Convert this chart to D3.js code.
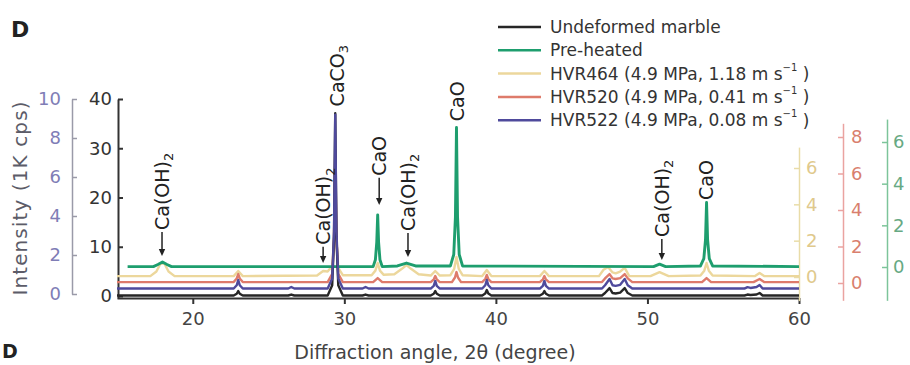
<!DOCTYPE html>
<html><head><meta charset="utf-8">
<script src="https://cdn.jsdelivr.net/npm/d3@7"></script>
<style>
body{margin:0;background:#fff;}
svg{display:block;font-family:"DejaVu Sans",sans-serif;background:#fff;}
</style></head><body><svg id="c" width="910" height="365"></svg>
<script>
// ---------------- DATA ----------------
const seriesNames = ["Undeformed marble", "Pre-heated", "HVR464 (4.9 MPa, 1.18 m s", "HVR520 (4.9 MPa, 0.41 m s", "HVR522 (4.9 MPa, 0.08 m s"];
const seriesColors = ["#262626", "#1e9e6e", "#ecd79c", "#de7b6b", "#4f4a9c"];

// [2theta (deg), intensity in that series' own axis units]
const undeformed = [[15.0,0.1],[22.7,0.1],[22.9,0.45],[23.0,1.0],[23.1,0.45],[23.3,0.1],[26.3,0.1],[26.5,0.3],[26.7,0.1],[28.9,0.1],[29.2,2.2],[29.32,12],[29.4,37.1],[29.48,12],[29.6,2.2],[29.9,0.1],[31.2,0.1],[31.4,0.3],[31.6,0.1],[35.7,0.1],[35.9,0.45],[36.0,1.0],[36.1,0.45],[36.3,0.1],[39.1,0.1],[39.3,0.5],[39.4,1.2],[39.5,0.5],[39.7,0.1],[42.9,0.1],[43.1,0.45],[43.2,1.0],[43.3,0.45],[43.5,0.1],[47.0,0.1],[47.2,0.6],[47.5,1.6],[47.7,0.6],[47.9,0.5],[48.2,0.7],[48.5,1.6],[48.7,0.6],[49.0,0.1],[56.4,0.1],[56.6,0.3],[56.8,0.2],[57.2,0.3],[57.4,0.6],[57.6,0.1],[60.0,0.1]];
const preheated = [[15.7,0.02],[17.4,0.02],[17.7,0.12],[18.0,0.24],[18.3,0.12],[18.6,0.02],[31.9,0.02],[32.05,0.35],[32.14,1.2],[32.2,2.5],[32.26,1.2],[32.35,0.35],[32.5,0.02],[33.5,0.05],[34.1,0.19],[34.7,0.05],[37.0,0.05],[37.22,0.6],[37.33,2.4],[37.4,6.7],[37.47,2.4],[37.58,0.6],[37.8,0.05],[50.4,0.02],[50.8,0.14],[51.2,0.02],[53.5,0.05],[53.72,0.4],[53.83,1.3],[53.9,3.1],[53.97,1.3],[54.08,0.4],[54.3,0.05],[60.0,0.02]];
const hvr464 = [[15.0,0.05],[17.2,0.05],[17.6,0.3],[17.85,0.7],[18.0,0.77],[18.15,0.7],[18.4,0.3],[18.8,0.05],[22.7,0.05],[23.0,0.33],[23.3,0.05],[28.2,0.08],[28.6,0.33],[28.9,0.3],[29.2,0.6],[29.32,2.1],[29.4,6.4],[29.48,2.1],[29.6,0.5],[29.9,0.1],[31.8,0.1],[32.05,0.35],[32.2,0.77],[32.35,0.35],[32.6,0.12],[33.3,0.15],[33.8,0.45],[34.1,0.66],[34.4,0.45],[34.9,0.15],[35.7,0.08],[36.0,0.33],[36.3,0.08],[37.0,0.1],[37.25,0.45],[37.4,1.1],[37.55,0.45],[37.8,0.1],[39.1,0.05],[39.4,0.38],[39.7,0.05],[42.9,0.05],[43.2,0.33],[43.5,0.05],[46.8,0.05],[47.1,0.4],[47.4,0.55],[47.7,0.25],[47.9,0.2],[48.2,0.3],[48.5,0.5],[48.8,0.05],[50.2,0.05],[50.8,0.27],[51.4,0.05],[53.5,0.08],[53.75,0.35],[53.9,0.77],[54.05,0.35],[54.3,0.08],[57.1,0.05],[57.4,0.22],[57.7,0.05],[60.0,0.05]];
const hvr520 = [[15.0,0.05],[22.7,0.05],[22.9,0.25],[23.0,0.49],[23.1,0.25],[23.3,0.05],[28.9,0.05],[29.2,0.5],[29.32,2.4],[29.4,7.3],[29.48,2.4],[29.6,0.5],[29.9,0.05],[31.9,0.05],[32.2,0.27],[32.5,0.05],[35.7,0.05],[35.9,0.2],[36.0,0.38],[36.1,0.2],[36.3,0.05],[37.1,0.05],[37.3,0.3],[37.4,0.6],[37.5,0.3],[37.7,0.05],[39.1,0.05],[39.3,0.22],[39.4,0.44],[39.5,0.22],[39.7,0.05],[42.9,0.05],[43.1,0.2],[43.2,0.38],[43.3,0.2],[43.5,0.05],[47.0,0.05],[47.2,0.25],[47.5,0.49],[47.7,0.25],[47.9,0.22],[48.2,0.27],[48.5,0.49],[48.7,0.25],[49.0,0.05],[53.6,0.05],[53.9,0.27],[54.2,0.05],[57.0,0.05],[57.4,0.22],[57.7,0.05],[60.0,0.05]];
const hvr522 = [[15.0,0.28],[22.7,0.28],[22.9,0.45],[23.0,0.72],[23.1,0.45],[23.3,0.28],[26.3,0.28],[26.5,0.36],[26.7,0.28],[28.9,0.28],[29.2,0.8],[29.32,3.2],[29.4,9.2],[29.48,3.2],[29.6,0.8],[29.9,0.28],[31.2,0.28],[31.4,0.36],[31.6,0.28],[35.7,0.28],[35.9,0.42],[36.0,0.67],[36.1,0.42],[36.3,0.28],[39.1,0.28],[39.3,0.45],[39.4,0.72],[39.5,0.45],[39.7,0.28],[42.9,0.28],[43.1,0.42],[43.2,0.67],[43.3,0.42],[43.5,0.28],[47.0,0.28],[47.2,0.45],[47.5,0.77],[47.7,0.45],[47.9,0.42],[48.2,0.47],[48.5,0.77],[48.7,0.45],[49.0,0.28],[56.4,0.28],[56.6,0.35],[56.8,0.31],[57.2,0.36],[57.4,0.46],[57.6,0.28],[60.0,0.28]];

const xTicks = [20, 30, 40, 50, 60];
const blackTicks = [0, 10, 20, 30, 40];
const purpleTicks = [0, 2, 4, 6, 8, 10];
const yellowTicks = [0, 2, 4, 6];
const redTicks = [0, 2, 4, 6, 8];
const greenTicks = [0, 2, 4, 6];

// peak annotations (angle, label, subscript, text start & arrow tip in left-axis units)
const peakAngles = [17.97, 28.6, 29.5, 32.3, 34.2, 37.42, 50.95, 53.88];
const peakLabels = ["Ca(OH)", "Ca(OH)", "CaCO", "CaO", "Ca(OH)", "CaO", "Ca(OH)", "CaO"];
const peakSubs = ["2", "2", "3", "", "2", "", "2", ""];
const labelBase = [13.4, 10.4, 38.5, 24.4, 13.2, 35.5, 12.0, 19.5];
const arrowTip = [8.1, 6.7, null, 18.5, 7.9, null, 7.3, null];

// ---------------- CHART ----------------
const svg = d3.select("#c");
const x = d3.scaleLinear().domain([15, 60]).range([117, 799]);
const yBlack = d3.scaleLinear().domain([0, 40]).range([296, 99]);
const yPurple = d3.scaleLinear().domain([0, 10]).range([294, 99]);
const yYellow = d3.scaleLinear().domain([0, 6]).range([277, 168]);
const yRed = d3.scaleLinear().domain([0, 8]).range([283, 137]);
const yGreen = d3.scaleLinear().domain([0, 6]).range([267, 142]);

function ext(s, lo, hi) { return s.copy().domain([lo, hi]).range([s(lo), s(hi)]); }

function styleAxis(g, lineColor, textColor, lw) {
  g.selectAll(".domain").attr("stroke", lineColor).attr("stroke-width", lw);
  g.selectAll(".tick line").attr("stroke", lineColor).attr("stroke-width", lw);
  g.selectAll(".tick text").attr("fill", textColor).attr("font-size", 18)
    .attr("font-family", "DejaVu Sans, sans-serif");
}

// x axis
const gx = svg.append("g").attr("transform", "translate(0,298)")
  .call(d3.axisBottom(x).tickValues(xTicks).tickSizeInner(6).tickSizeOuter(0).tickPadding(8));
styleAxis(gx, "#333", "#444", 2);

// black left axis
const gb = svg.append("g").attr("transform", "translate(118,0)")
  .call(d3.axisLeft(ext(yBlack, -0.4, 40)).tickValues(blackTicks).tickSizeInner(-5).tickSizeOuter(0).tickPadding(6));
styleAxis(gb, "#333", "#333", 2);

// purple axis
const gp = svg.append("g").attr("transform", "translate(72,0)")
  .call(d3.axisLeft(yPurple).tickValues(purpleTicks).tickSizeInner(-5).tickSizeOuter(0).tickPadding(11));
styleAxis(gp, "#9a9aa8", "#7f7db6", 1.5);

// right axes
const gy = svg.append("g").attr("transform", "translate(799,0)")
  .call(d3.axisRight(ext(yYellow, -1.3, 7.15)).tickValues(yellowTicks).tickSizeInner(-5).tickSizeOuter(0).tickPadding(7));
styleAxis(gy, "#e9dca8", "#e0c98c", 1.5);
const gr = svg.append("g").attr("transform", "translate(843,0)")
  .call(d3.axisRight(ext(yRed, -0.95, 8.75)).tickValues(redTicks).tickSizeInner(-5).tickSizeOuter(0).tickPadding(8));
styleAxis(gr, "#eaa3a0", "#d97f6e", 1.5);
const gg = svg.append("g").attr("transform", "translate(887,0)")
  .call(d3.axisRight(ext(yGreen, -1.6, 7.1)).tickValues(greenTicks).tickSizeInner(-5).tickSizeOuter(0).tickPadding(6));
styleAxis(gg, "#7cc49a", "#67a983", 1.5);

// traces
const traces = [
  {d: hvr464, y: yYellow, c: seriesColors[2], w: 2.4},
  {d: hvr520, y: yRed, c: seriesColors[3], w: 2.4},
  {d: preheated, y: yGreen, c: seriesColors[1], w: 2.9},
  {d: undeformed, y: yBlack, c: seriesColors[0], w: 2.4},
  {d: hvr522, y: yPurple, c: seriesColors[4], w: 2.4}
];
traces.forEach(t => {
  const line = d3.line().x(p => x(p[0])).y(p => t.y(p[1]));
  svg.append("path").datum(t.d).attr("d", line).attr("fill", "none")
    .attr("stroke", t.c).attr("stroke-width", t.w).attr("stroke-linejoin", "round");
});

// peak annotations
peakAngles.forEach((a, i) => {
  const px = x(a), yb = yBlack(labelBase[i]);
  const t = svg.append("text").attr("transform", `translate(${px},${yb}) rotate(-90)`)
    .attr("dy", "0.36em").attr("font-size", 19).attr("fill", "#222");
  t.append("tspan").text(peakLabels[i]);
  if (peakSubs[i]) t.append("tspan").attr("font-size", 13).attr("dy", "0.35em").text(peakSubs[i]);
  if (arrowTip[i] !== null) {
    const yt = yBlack(arrowTip[i]);
    svg.append("line").attr("x1", px).attr("x2", px).attr("y1", yb + 2).attr("y2", yt - 5)
      .attr("stroke", "#222").attr("stroke-width", 1.5);
    svg.append("path").attr("d", `M${px - 3.2},${yt - 7}L${px + 3.2},${yt - 7}L${px},${yt}Z`).attr("fill", "#222");
  }
});

// legend
const legendOrder = [0, 1, 2, 3, 4];
const lg = svg.append("g");
legendOrder.forEach((k, i) => {
  const yy = 27 + i * 23.3;
  lg.append("line").attr("x1", 498).attr("x2", 541).attr("y1", yy).attr("y2", yy)
    .attr("stroke", seriesColors[k]).attr("stroke-width", 2.5);
  const t = lg.append("text").attr("x", 550).attr("y", yy).attr("dy", "0.36em")
    .attr("font-size", 17).attr("fill", "#333");
  t.append("tspan").text(seriesNames[k]);
  if (k >= 2) {
    t.append("tspan").attr("font-size", 10).attr("dy", "-0.9em").text("−1");
    t.append("tspan").attr("dy", "0.55em").text(" )");
  }
});

// axis titles
svg.append("text").attr("transform", "translate(20,198) rotate(-90)").attr("text-anchor", "middle")
  .attr("dy", "0.36em").attr("font-size", 20).attr("letter-spacing", 1.1).attr("fill", "#5c5c68")
  .text("Intensity (1K cps)");
svg.append("text").attr("x", 435).attr("y", 359).attr("text-anchor", "middle")
  .attr("font-size", 19).attr("fill", "#444").text("Diffraction angle, 2θ (degree)");

// panel letters
svg.append("text").attr("x", 11).attr("y", 37).attr("font-size", 22).attr("font-weight", "bold").attr("fill", "#222").text("D");
svg.append("text").attr("x", 2).attr("y", 358).attr("font-size", 19).attr("font-weight", "bold").attr("fill", "#222").text("D");
</script></body></html>
